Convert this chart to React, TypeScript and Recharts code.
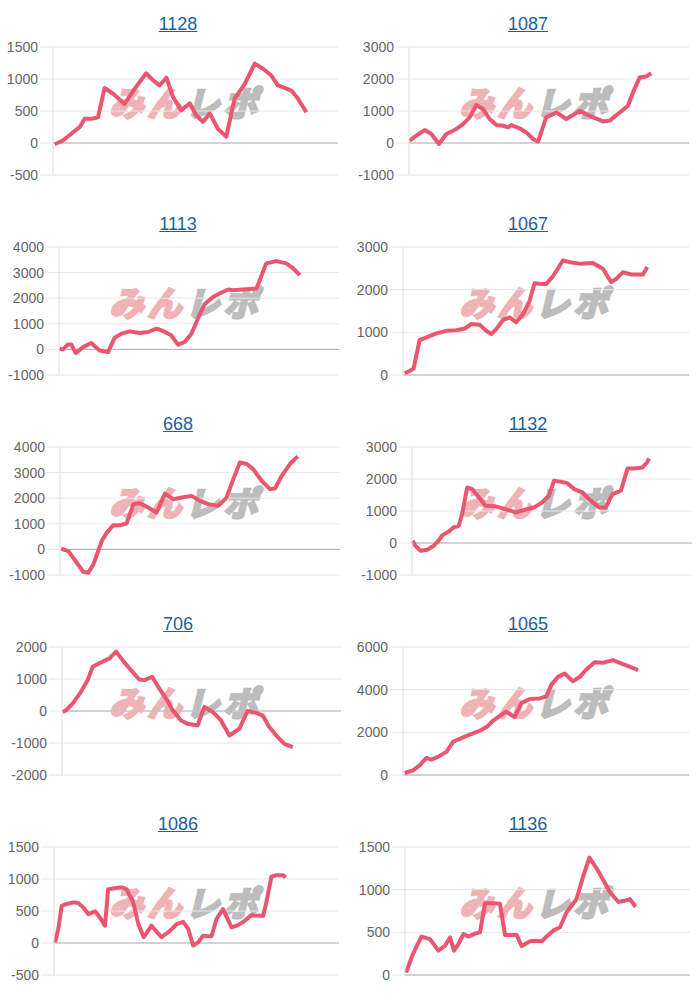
import React from 'react';
import { LineChart, Line, XAxis, YAxis, CartesianGrid, ReferenceLine } from 'recharts';

const titles = ['1128', '1087', '1113', '1067', '668', '1132', '706', '1065', '1086', '1136'];

// t: position along the game axis (0-100), v: value
const t1128 = [0.6, 3.5, 6.4, 9.4, 11.1, 13.5, 15.8, 18.1, 21.1, 25.1, 28.7, 32.7, 35.1, 37.4, 39.8, 42.1, 45.0, 48.0, 50.3, 52.6, 55.0, 57.9, 60.8, 63.7, 67.3, 70.8, 73.7, 76.6, 78.9, 81.3, 83.6, 86.0, 88.9];
const v1128 = [-20, 40, 145, 250, 380, 380, 400, 860, 770, 610, 850, 1090, 980, 900, 1020, 720, 510, 620, 430, 330, 460, 220, 100, 690, 925, 1240, 1160, 1055, 900, 860, 820, 690, 480];

const t1087 = [0.2, 2.6, 5.6, 8.0, 10.7, 13.3, 16.3, 19.3, 21.7, 24.0, 26.4, 28.8, 31.2, 33.6, 35.4, 36.5, 39.5, 41.9, 44.3, 46.1, 49.0, 52.6, 56.2, 61.0, 64.5, 69.3, 71.7, 74.6, 78.2, 80.0, 82.4, 84.8, 86.5];
const v1087 = [70, 230, 405, 280, -30, 280, 405, 590, 800, 1185, 1060, 750, 560, 540, 490, 560, 460, 330, 125, 40, 800, 955, 750, 1010, 850, 675, 700, 905, 1165, 1580, 2050, 2080, 2180];

const t1113 = [0.2, 1.4, 3.2, 4.4, 6.0, 8.6, 11.5, 14.5, 17.5, 19.9, 22.3, 25.2, 28.8, 31.8, 34.8, 37.1, 40.1, 42.5, 44.9, 47.3, 49.6, 52.0, 55.0, 58.0, 60.4, 62.1, 65.7, 70.5, 71.7, 74.0, 77.6, 81.2, 83.6, 86.0];
const v1113 = [25, 0, 195, 195, -145, 90, 250, -40, -105, 460, 615, 705, 640, 680, 810, 720, 550, 185, 290, 615, 1200, 1765, 2050, 2220, 2340, 2315, 2340, 2380, 2705, 3360, 3450, 3360, 3165, 2900];

const t1067 = [0.6, 2.3, 3.7, 5.8, 8.2, 11.7, 15.2, 18.6, 21.6, 23.9, 26.8, 29.1, 30.9, 32.6, 35.0, 37.3, 39.6, 42.0, 44.3, 46.0, 48.4, 50.1, 52.4, 55.9, 58.3, 61.8, 66.4, 69.9, 72.8, 74.6, 76.9, 79.8, 83.9, 85.4];
const v1067 = [40, 95, 150, 815, 880, 975, 1035, 1050, 1090, 1195, 1180, 1035, 960, 1075, 1290, 1350, 1235, 1430, 1745, 2150, 2135, 2135, 2310, 2685, 2645, 2610, 2625, 2490, 2175, 2255, 2410, 2355, 2355, 2530];

const t668 = [0.4, 3.0, 6.0, 8.3, 10.1, 11.9, 14.9, 16.7, 19.0, 21.4, 23.8, 26.2, 28.6, 31.5, 34.5, 37.5, 40.5, 43.5, 47.0, 50.0, 53.0, 56.5, 59.5, 61.9, 64.3, 66.7, 69.0, 72.0, 75.0, 76.8, 79.2, 82.1, 84.9];
const v668 = [25, -65, -520, -875, -915, -590, 325, 655, 940, 940, 1020, 1765, 1805, 1635, 1440, 2180, 1960, 2025, 2090, 1895, 1765, 1700, 2025, 2745, 3400, 3335, 3135, 2680, 2355, 2380, 2875, 3335, 3635];

const t1132 = [0.2, 1.2, 3.0, 5.4, 7.8, 9.5, 10.7, 13.1, 14.9, 16.7, 17.9, 19.7, 21.5, 23.9, 26.3, 29.8, 33.4, 37.0, 40.0, 43.6, 46.5, 48.9, 50.7, 53.1, 55.5, 57.9, 60.9, 63.2, 66.8, 69.2, 71.6, 74.6, 77.0, 79.4, 82.3, 83.9, 84.7];
const v1132 = [75, -85, -240, -210, -85, 75, 230, 355, 490, 540, 905, 1735, 1685, 1425, 1165, 1145, 1060, 955, 1030, 1110, 1270, 1475, 1945, 1915, 1870, 1685, 1580, 1370, 1110, 1110, 1530, 1635, 2330, 2330, 2360, 2515, 2640];

const t706 = [0.2, 1.4, 3.8, 6.8, 9.2, 11.0, 13.4, 17.0, 19.4, 21.7, 24.7, 27.7, 29.5, 32.3, 34.9, 37.3, 39.7, 42.7, 45.0, 48.6, 51.0, 54.0, 57.0, 60.0, 63.6, 66.5, 69.5, 71.9, 74.3, 77.3, 79.7, 82.7];
const v706 = [-30, 20, 230, 600, 965, 1380, 1490, 1645, 1855, 1590, 1275, 985, 965, 1070, 700, 390, 20, -295, -400, -450, 125, -30, -295, -765, -555, 0, -60, -135, -500, -815, -1025, -1130];

const t1065 = [0.6, 3.5, 5.8, 8.2, 9.9, 12.2, 15.2, 17.5, 21.0, 24.5, 27.4, 29.7, 31.5, 34.4, 36.1, 39.0, 41.4, 44.3, 47.8, 50.1, 51.9, 54.2, 56.5, 59.4, 61.8, 64.1, 67.0, 69.9, 73.4, 75.8, 78.1, 82.2];
const v1065 = [95, 220, 455, 800, 725, 850, 1085, 1560, 1765, 1955, 2110, 2300, 2550, 2820, 2975, 2710, 3370, 3560, 3590, 3685, 4235, 4600, 4755, 4395, 4600, 4945, 5290, 5260, 5385, 5260, 5135, 4915];

const t1086 = [0.4, 1.5, 2.7, 4.4, 6.8, 8.5, 10.3, 12.1, 14.4, 16.1, 17.9, 19.0, 21.4, 23.7, 25.5, 27.8, 29.6, 31.5, 34.2, 37.7, 40.7, 43.0, 45.3, 47.1, 48.8, 50.6, 52.3, 54.1, 55.3, 57.0, 59.3, 62.3, 64.6, 66.4, 69.3, 71.6, 73.4, 74.5, 76.3, 78.0, 80.4, 81.3];
const v1086 = [10, 220, 580, 610, 635, 625, 555, 450, 495, 400, 270, 840, 855, 870, 840, 635, 295, 90, 270, 90, 190, 295, 330, 220, -40, 10, 115, 105, 105, 375, 530, 245, 280, 330, 435, 425, 425, 635, 1035, 1060, 1060, 1025];

const t1136 = [0.4, 2.3, 4.1, 5.8, 8.8, 11.7, 14.0, 15.8, 17.2, 18.7, 20.5, 22.2, 24.6, 26.3, 28.1, 31.0, 33.3, 35.1, 39.2, 40.9, 43.9, 45.6, 48.0, 50.3, 52.0, 54.4, 56.7, 60.2, 62.6, 64.7, 67.3, 69.6, 71.9, 74.9, 77.8, 78.9, 80.9];
const v1136 = [28, 205, 340, 450, 420, 285, 340, 440, 285, 360, 480, 450, 485, 500, 840, 840, 835, 470, 470, 340, 395, 400, 395, 470, 520, 560, 735, 890, 1165, 1375, 1245, 1110, 970, 855, 875, 890, 800];

const ticks1128 = [-500, 0, 500, 1000, 1500];
const ticks1087 = [-1000, 0, 1000, 2000, 3000];
const ticks1113 = [-1000, 0, 1000, 2000, 3000, 4000];
const ticks1067 = [0, 1000, 2000, 3000];
const ticks668 = [-1000, 0, 1000, 2000, 3000, 4000];
const ticks1132 = [-1000, 0, 1000, 2000, 3000];
const ticks706 = [-2000, -1000, 0, 1000, 2000];
const ticks1065 = [0, 2000, 4000, 6000];
const ticks1086 = [-500, 0, 500, 1000, 1500];
const ticks1136 = [0, 500, 1000, 1500];

const seriesT = [t1128, t1087, t1113, t1067, t668, t1132, t706, t1065, t1086, t1136];
const seriesV = [v1128, v1087, v1113, v1067, v668, v1132, v706, v1065, v1086, v1136];
const seriesTicks = [ticks1128, ticks1087, ticks1113, ticks1067, ticks668, ticks1132, ticks706, ticks1065, ticks1086, ticks1136];

// layout (plot left / right edge within each 350px cell)
const plotLeft = [53, 59, 59, 53, 60, 62, 62, 53, 54, 55];
const plotRight = [338, 339, 339, 339, 340, 342, 341, 339, 339, 340];

const LINE_COLOR = '#ea5670';
const FONT = '"Liberation Sans", Arial, Helvetica, sans-serif';

function Cell({ idx }: { idx: number }) {
  const col = idx % 2;
  const row = Math.floor(idx / 2);
  const t = seriesT[idx];
  const v = seriesV[idx];
  const ticks = seriesTicks[idx];
  const data = t.map((x, i) => ({ t: x, v: v[i] }));
  return (
    <div style={{ position: 'absolute', left: col * 350, top: row * 200, width: 350, height: 200 }}>
      <div
        style={{
          position: 'absolute',
          left: 0,
          top: 14,
          width: 356,
          textAlign: 'center',
          fontFamily: FONT,
          fontSize: 18,
          lineHeight: '20px',
        }}
      >
        <a href="#" style={{ color: '#1d5f9e', textDecoration: 'underline' }}>
          {titles[idx]}
        </a>
      </div>
      <div
        style={{
          position: 'absolute',
          left: 113,
          top: 84,
          width: 180,
          height: 36,
          fontFamily: '"Noto Sans CJK JP", sans-serif',
          fontWeight: 700,
          fontSize: 34,
          lineHeight: '36px',
          letterSpacing: 4,
          whiteSpace: 'nowrap',
          transform: 'skewX(-14deg)',
        }}
      >
        <span style={{ color: '#efb3b6', WebkitTextStroke: '3px #efb3b6' }}>みん</span>
        <span style={{ color: '#bdbdbd', WebkitTextStroke: '3px #bdbdbd' }}>レポ</span>
      </div>
      <div style={{ position: 'absolute', left: 0, top: 0 }}>
        <LineChart
          width={350}
          height={200}
          data={data}
          margin={{ top: 47, right: 350 - plotRight[idx], bottom: 25, left: 0 }}
        >
          <CartesianGrid vertical={false} stroke="#e6e6e6" />
          <XAxis type="number" dataKey="t" domain={[0, 100]} hide />
          <YAxis
            width={plotLeft[idx]}
            type="number"
            domain={[ticks[0], ticks[ticks.length - 1]]}
            ticks={ticks}
            interval={0}
            tick={{ fill: '#666', fontSize: 14, fontFamily: FONT }}
            tickLine={{ stroke: '#e6e6e6' }}
            tickSize={13}
            tickMargin={2}
            axisLine={{ stroke: '#dcdcdc' }}
          />
          <ReferenceLine y={0} stroke="#b0b0b0" />
          <Line
            dataKey="v"
            type="linear"
            stroke={LINE_COLOR}
            strokeWidth={4}
            strokeLinejoin="round"
            dot={false}
            activeDot={false}
            isAnimationActive={false}
          />
        </LineChart>
      </div>
    </div>
  );
}

export default function App() {
  return (
    <div style={{ position: 'absolute', left: 0, top: 0, width: 700, height: 1000, background: '#fff' }}>
      {titles.map((_, i) => (
        <Cell key={i} idx={i} />
      ))}
    </div>
  );
}
